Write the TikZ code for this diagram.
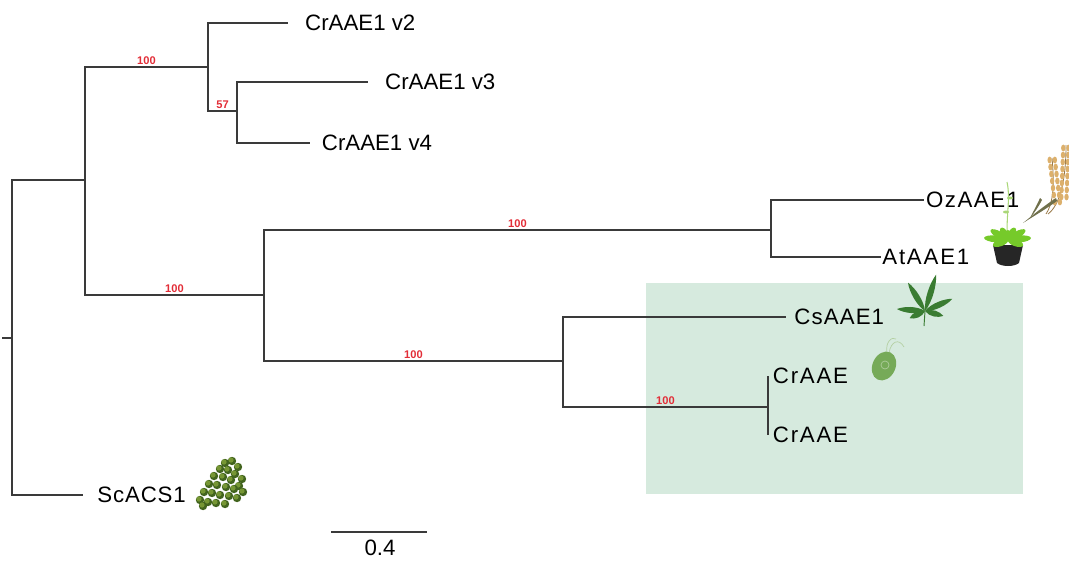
\documentclass[tikz,border=0pt]{standalone}
\usepackage{fontspec}
\setmainfont{Liberation Sans}
\usetikzlibrary{positioning}

\definecolor{branchgray}{RGB}{58,58,58}
\definecolor{bootred}{RGB}{226,45,55}
\definecolor{cladegreen}{RGB}{214,234,222}
\definecolor{hempgreen}{RGB}{58,124,50}
\definecolor{chlamygreen}{RGB}{118,170,88}
\definecolor{yeastgreen}{RGB}{118,150,52}
\definecolor{yeastdark}{RGB}{66,100,30}
\definecolor{rosettegreen}{RGB}{118,202,42}
\definecolor{stemgreen}{RGB}{170,215,120}
\definecolor{potblack}{RGB}{38,38,38}
\definecolor{ricegold}{RGB}{220,176,108}
\definecolor{riceleaf}{RGB}{112,112,76}

\tikzset{
  branch/.style={draw=branchgray, line width=1.5pt},
  leaf/.style={inner sep=0pt, font=\fontsize{19}{22}\selectfont},
  wideleaf/.style={leaf, font=\fontsize{19}{22}\selectfont\addfontfeature{LetterSpace=#1}},
  boot/.style={text=bootred, inner sep=1pt, font=\fontsize{9.5}{10}\selectfont\bfseries},
}

\begin{document}
\begin{tikzpicture}[
    x=0.03cm,
    y=-0.03cm,
    line cap=butt
]
\useasboundingbox (0,0) rectangle (1069,560);

% shaded clade
\fill[cladegreen] (646,283) rectangle (1023,494);

% internal nodes
\coordinate (stub) at (2,338);
\coordinate (root) at (12,338);
\coordinate (nA) at (85,180);
\coordinate (nB) at (208,67);
\coordinate (nC) at (237,111);
\coordinate (nD) at (264,295);
\coordinate (nE) at (771,230);
\coordinate (nF) at (563,361);
\coordinate (nG) at (768,407);

% branch tips
\coordinate (t2) at (288,23);
\coordinate (t3) at (368,82);
\coordinate (t4) at (310,143);
\coordinate (tOz) at (924,200);
\coordinate (tAt) at (881,257);
\coordinate (tCs) at (786,317);
\coordinate (tCr1) at (768,376);
\coordinate (tCr2) at (768,435);
\coordinate (tSc) at (83,495);

% taxa
\node[leaf, right=14.5pt of t2] (v2) {CrAAE1 v2};
\node[leaf, right=14.5pt of t3] (v3) {CrAAE1 v3};
\node[leaf, right=10pt of t4] (v4) {CrAAE1 v4};
\node[wideleaf=7, right=1.5pt of tOz] (oz) {OzAAE1};
\node[wideleaf=8, right=1pt of tAt] (at) {AtAAE1};
\node[wideleaf=5, right=7pt of tCs] (cs) {CsAAE1};
\node[wideleaf=8, right=4pt of tCr1] (cr1) {CrAAE};
\node[wideleaf=8, right=4pt of tCr2] (cr2) {CrAAE};
\node[wideleaf=4, right=12pt of tSc] (sc) {ScACS1};

% branches with bootstrap values
\draw[branch] (stub) -- (root);
\draw[branch] (root) |- (nA);
\draw[branch] (root) |- (tSc);
\draw[branch] (nA) |- (nB) node[boot, pos=0.75, above] (bB) {100};
\draw[branch] (nA) |- (nD) node[boot, pos=0.75, above] (bD) {100};
\draw[branch] (nB) |- (t2);
\draw[branch] (nB) |- (nC) node[boot, pos=0.75, above] (bC) {57};
\draw[branch] (nC) |- (t3);
\draw[branch] (nC) |- (t4);
\draw[branch] (nD) |- (nE) node[boot, pos=0.75, above] (bE) {100};
\draw[branch] (nD) |- (nF) node[boot, pos=0.75, above] (bF) {100};
\draw[branch] (nE) |- (tOz);
\draw[branch] (nE) |- (tAt);
\draw[branch] (nF) |- (tCs);
\draw[branch] (nF) |- (nG) node[boot, pos=0.75, above] (bG) {100};
\draw[branch] (nG) -- (tCr1);
\draw[branch] (nG) -- (tCr2);

% scale bar
\coordinate (sbL) at (331,532);
\coordinate (sbR) at (427,532);
\draw[branch, line width=1.2pt] (sbL) -- (sbR);
\node[leaf] (sbT) at (380,548) {0.4};

% yeast colony
\foreach \x/\y in {225/463,232/461,238/467,220/469,228/470,235/474,242/479,
                   214/476,223/477,231/480,239/486,209/484,217/485,226/487,
                   234/489,243/492,204/492,212/493,220/495,229/496,237/498,
                   200/500,208/502,216/503,225/504,203/506}{
    \fill[yeastdark] (\x,\y) circle (4.2);
    \fill[yeastgreen] (\x-1,\y-1) circle (2.6);
}

% hemp leaf
\begin{scope}[shift={(925,311)}]
\draw[hempgreen, line width=0.8pt] (0,0) -- (-1,15);
\foreach \a/\l in {73/38,121/33,24/30,176/28,-15/19,205/17}{
    \fill[hempgreen, rotate=\a] (0,0) .. controls (0.3*\l,4.5) and (0.75*\l,3.5) .. (\l,0)
        .. controls (0.75*\l,-3.5) and (0.3*\l,-4.5) .. (0,0);
}
\end{scope}

% chlamydomonas cell
\begin{scope}[shift={(884,366)}]
\draw[chlamygreen!55!white, line width=0.6pt] (5,-13) .. controls (7,-25) and (15,-28) .. (20,-19);
\draw[chlamygreen!55!white, line width=0.6pt] (3,-13) .. controls (1,-24) and (8,-30) .. (12,-27);
\fill[chlamygreen, rotate=-25] (0,0) ellipse (11.5 and 15);
\draw[chlamygreen!60!white, line width=0.6pt] (1,-1) circle (4);
\end{scope}

% arabidopsis in a pot
\draw[stemgreen, line width=0.9pt] (1008,240) .. controls (1005,220) and (1011,200) .. (1007,182);
\fill[stemgreen] (1006,212) ellipse (3 and 1.5);
\fill[stemgreen] (1010,198) ellipse (3 and 1.5);
\fill[potblack] (993,245) -- (1023,245) -- (1019,263)
    .. controls (1014,267) and (1002,267) .. (997,263) -- cycle;
\begin{scope}[shift={(1008,240)}]
\foreach \a/\l in {5/23,30/20,60/14,120/14,150/20,175/24,-20/16,200/16,90/10}{
    \fill[rosettegreen, rotate=\a] (\l/2,0) ellipse (\l/2 and 3.5);
}
\end{scope}

% rice
\draw[ricegold!70!black, line width=0.7pt] (1046,214) .. controls (1052,205) and (1055,190) .. (1052,158);
\draw[ricegold!70!black, line width=0.7pt] (1048,214) .. controls (1060,205) and (1066,180) .. (1066,145);
\foreach \y in {160,167,...,202}{
    \pgfmathsetmacro{\ex}{1052+(\y-158)*0.12}
    \fill[ricegold] (\ex-2.6,\y) ellipse (2.2 and 3.4);
    \fill[ricegold] (\ex+2.6,\y) ellipse (2.2 and 3.4);
}
\foreach \y in {148,155,...,200}{
    \pgfmathsetmacro{\ex}{1066-(\y-145)*0.04}
    \fill[ricegold] (\ex-2.6,\y) ellipse (2.2 and 3.4);
    \fill[ricegold] (\ex+2.6,\y) ellipse (2.2 and 3.4);
}
\fill[riceleaf] (1023,223) .. controls (1034,214) and (1044,206) .. (1056,198)
    -- (1057,201) .. controls (1046,209) and (1034,216) .. (1023,223);
\fill[riceleaf] (1030,218) .. controls (1034,210) and (1038,203) .. (1040,198)
    -- (1042,200) .. controls (1039,206) and (1035,212) .. (1030,218);
\end{tikzpicture}
\end{document}
